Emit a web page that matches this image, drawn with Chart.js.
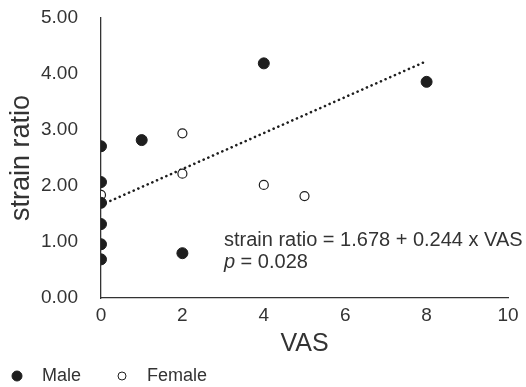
<!DOCTYPE html>
<html>
<head>
<meta charset="utf-8">
<title>strain ratio vs VAS</title>
<script src="https://cdn.jsdelivr.net/npm/chart.js@4.4.1/dist/chart.umd.min.js"></script>
<style>
  html, body { margin: 0; padding: 0; background: #fff; }
  canvas { display: block; }
</style>
</head>
<body>
<canvas id="chart" width="526" height="387"></canvas>
<script>
  'use strict';

  // values
  const maleVas = [0, 0, 0, 0, 0, 0, 1, 2, 4, 8];
  const maleRatio = [2.71, 2.07, 1.70, 1.32, 0.96, 0.69, 2.82, 0.80, 4.19, 3.86];
  const femaleVas = [0, 2, 2, 4, 5];
  const femaleRatio = [1.84, 2.94, 2.22, 2.02, 1.82];
  const trendVas = [0, 8];
  const trendRatio = [1.66, 4.23];

  const xTickValues = [0, 2, 4, 6, 8, 10];
  const yTickValues = [0, 1, 2, 3, 4, 5];
  const legendNames = ['Male', 'Female'];
  const equationText = 'strain ratio = 1.678 + 0.244 x VAS';
  const pText = ' = 0.028';

  const FONT = '"Liberation Sans", Arial, Helvetica, sans-serif';
  const INK = '#1e1e1e';
  const TEXT = '#333333';

  function toPoints(xs, ys) {
    return xs.map((x, i) => ({ x: x, y: ys[i] }));
  }

  // equation, p value and legend
  const extras = {
    id: 'extras',
    afterDraw(chart) {
      const ctx = chart.ctx;
      const xs = chart.scales.x;
      const ys = chart.scales.y;
      ctx.save();
      ctx.fillStyle = TEXT;
      ctx.textAlign = 'left';
      ctx.textBaseline = 'alphabetic';
      ctx.font = '20px ' + FONT;
      const tx = xs.getPixelForValue(3.02);
      ctx.fillText(equationText, tx, ys.getPixelForValue(0.93));
      const py = ys.getPixelForValue(0.54);
      ctx.font = 'italic 20px ' + FONT;
      ctx.fillText('p', tx, py);
      const pw = ctx.measureText('p').width;
      ctx.font = '20px ' + FONT;
      ctx.fillText(pText, tx + pw, py);

      // legend below the axis
      const ly = 376;
      const items = [
        { x: 17, r: 5, ds: chart.data.datasets[0] },
        { x: 122, r: 4, ds: chart.data.datasets[1] }
      ];
      items.forEach((it, i) => {
        ctx.beginPath();
        ctx.arc(it.x, ly, it.r, 0, Math.PI * 2);
        ctx.fillStyle = it.ds.pointBackgroundColor;
        ctx.fill();
        ctx.lineWidth = 1;
        ctx.strokeStyle = it.ds.pointBorderColor;
        ctx.stroke();
        ctx.fillStyle = TEXT;
        ctx.font = '18px ' + FONT;
        ctx.textBaseline = 'middle';
        ctx.fillText(legendNames[i], it.x + 25, ly);
      });
      ctx.restore();
    }
  };

  new Chart(document.getElementById('chart').getContext('2d'), {
    type: 'scatter',
    data: {
      datasets: [
        {
          label: legendNames[0],
          data: toPoints(maleVas, maleRatio),
          pointRadius: 5.5,
          pointBackgroundColor: INK,
          pointBorderColor: INK,
          pointBorderWidth: 1,
          order: 1
        },
        {
          label: legendNames[1],
          data: toPoints(femaleVas, femaleRatio),
          pointRadius: 4.5,
          pointBackgroundColor: '#ffffff',
          pointBorderColor: INK,
          pointBorderWidth: 1.2,
          order: 2
        },
        {
          label: 'trend',
          data: toPoints(trendVas, trendRatio),
          showLine: true,
          pointRadius: 0,
          borderColor: INK,
          borderWidth: 2.6,
          borderDash: [0.1, 5],
          borderCapStyle: 'round',
          order: 3
        }
      ]
    },
    options: {
      responsive: false,
      animation: false,
      events: [],
      layout: { padding: { left: 0, right: 18, top: 18, bottom: 0 } },
      plugins: {
        legend: { display: false },
        tooltip: { enabled: false }
      },
      scales: {
        x: {
          type: 'linear',
          min: 0,
          max: 10,
          afterBuildTicks: s => { s.ticks = xTickValues.map(v => ({ value: v })); },
          afterFit: s => { s.height = 89; s.paddingLeft = 0; s.paddingRight = 0; },
          grid: { display: false, drawTicks: false },
          border: { display: true, color: '#333', width: 1.3 },
          ticks: { color: TEXT, font: { family: FONT, size: 19 }, padding: 6 },
          title: {
            display: true, text: 'VAS', color: TEXT,
            font: { family: FONT, size: 25 }, padding: { top: 0, bottom: 28 }
          }
        },
        y: {
          type: 'linear',
          min: 0,
          max: 5,
          afterBuildTicks: s => { s.ticks = yTickValues.map(v => ({ value: v })); },
          afterFit: s => { s.width = 101; s.paddingTop = 0; s.paddingBottom = 0; },
          grid: { display: false, drawTicks: false },
          border: { display: true, color: '#333', width: 1.3 },
          ticks: {
            color: TEXT, font: { family: FONT, size: 19 }, padding: 23,
            callback: v => v.toFixed(2)
          },
          title: {
            display: true, text: 'strain ratio', color: TEXT,
            font: { family: FONT, size: 27 }, padding: { top: 5, bottom: 0 }
          }
        }
      }
    },
    plugins: [extras]
  });
</script>
</body>
</html>
